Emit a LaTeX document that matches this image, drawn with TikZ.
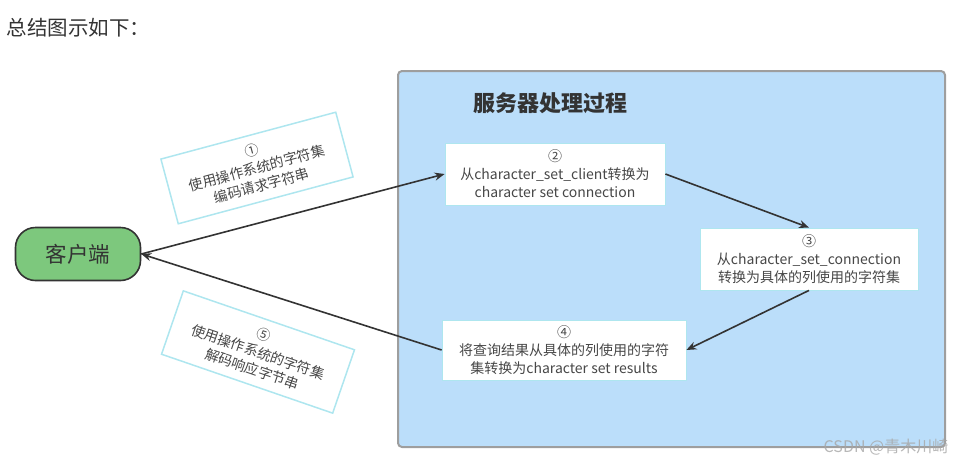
\documentclass[tikz,border=0pt]{standalone}
\usepackage{fontspec}
\setmainfont{Noto Sans CJK SC}
\usepackage{xcolor}
\usetikzlibrary{arrows.meta,positioning}
\definecolor{srvblue}{HTML}{BBDEFA}
\definecolor{srvgray}{HTML}{9E9E9E}
\definecolor{cligreen}{HTML}{7DC87D}
\definecolor{inkgray}{HTML}{333333}
\definecolor{tagcyan}{HTML}{AEE6EF}

\begin{document}
\begin{tikzpicture}[x=1pt,y=-1pt,>={Stealth[length=10pt,width=8pt]},
  stepbox/.style={draw=tagcyan,line width=0.8pt,fill=white,inner sep=0pt,align=center,
    font=\fontsize{14}{18}\selectfont,text=inkgray!90},
  tagbox/.style={draw=tagcyan,line width=1.5pt,fill=white,inner sep=0pt,align=center,
    font=\fontsize{14}{18}\selectfont,text=inkgray!90,minimum width=181pt,minimum height=67pt},
  flow/.style={->,draw=inkgray,line width=1.6pt}]
  \useasboundingbox (0,0) rectangle (964,464);
  \node[anchor=west,text=inkgray,font=\fontsize{20.5}{24}\selectfont] (title) at (3,28) {总结图示如下：};
  % server area
  \draw[srvgray,line width=2pt,fill=srvblue,rounded corners=4pt] (398,71) rectangle (945,447);
  \node[text=inkgray,font=\fontsize{22}{26}\selectfont\bfseries] (srv) at (550,103) {服务器处理过程};
  \node[stepbox,minimum width=220pt,minimum height=62pt] (conv) at (555,174)
    {②\\从character\_set\_client转换为\\character set connection};
  \node[stepbox,minimum width=218pt,minimum height=62pt] (col) at (809,259)
    {③\\从character\_set\_connection\\转换为具体的列使用的字符集};
  \node[stepbox,minimum width=244pt,minimum height=60pt] (res) at (564,350)
    {④\\将查询结果从具体的列使用的字符\\集转换为character set results};
  % client
  \node[draw=inkgray,line width=1.6pt,fill=cligreen,rounded corners=20pt,minimum width=125pt,
    minimum height=53pt,font=\fontsize{21.5}{24}\selectfont,text=inkgray] (client) at (78,254) {客户端};
  % tags
  \node[tagbox,rotate=15] (enc) at (257,168) {①\\使用操作系统的字符集\\编码请求字符串};
  \node[tagbox,rotate=-19] (dec) at (258,352) {⑤\\使用操作系统的字符集\\解码响应字节串};
  % arrows
  \draw[flow] (client.east) -- (conv.west);
  \draw[flow] (conv.east) -- (col.north);
  \draw[flow] (col.south) -- (res.east);
  \draw[flow] (res.west) -- (client.east);
  \node[text=gray!70,opacity=0.8,font=\fontsize{16}{18}\selectfont] (mark) at (886,447) {CSDN @青木川崎};
\end{tikzpicture}
\end{document}
